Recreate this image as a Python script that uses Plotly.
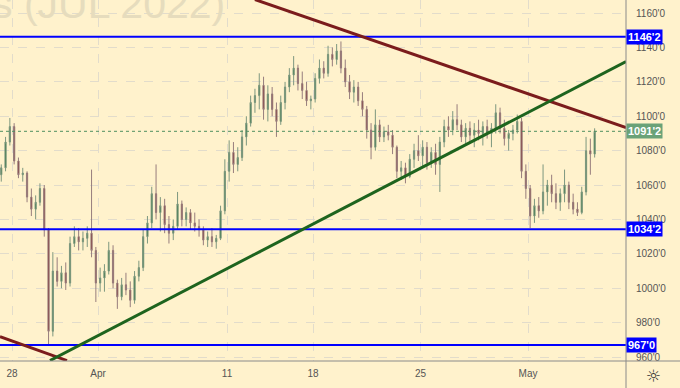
import plotly.graph_objects as go

# ---------------- data ----------------
opens = [1066,1070,1085,1094,1074,1066,1067,1053,1046,1050,1058,1034,975,1010,1004,1009,1003,1026,1030,1027,
         1029,1032,1022,1003,1006,1010,1022,1003,995,1002,999,993,1007,1012,1030,1038,1055,1044,1048,1037,
         1032,1036,1049,1040,1044,1038,1036,1034,1028,1030,1027,1029,1045,1068,1079,1072,1076,1088,1096,1108,
         1112,1118,1104,1113,1104,1097,1108,1117,1124,1128,1119,1115,1109,1110,1122,1128,1125,1136,1133,1138,
         1128,1120,1114,1117,1109,1104,1092,1082,1095,1088,1091,1089,1082,1068,1070,1065,1075,1080,1077,1082,
         1073,1079,1072,1085,1094,1092,1098,1095,1088,1093,1089,1092,1090,1094,1090,1093,1102,1093,1087,1090,
         1092,1097,1068,1058,1042,1048,1045,1056,1060,1055,1050,1055,1060,1050,1046,1044,1056,1080,1078]
highs = [1072,1088,1099,1096,1076,1070,1068,1058,1054,1061,1060,1035,1021,1018,1013,1015,1030,1036,1035,1033,
         1036,1069,1024,1012,1014,1027,1025,1005,1006,1009,1004,1010,1016,1034,1042,1059,1072,1053,1052,1042,
         1040,1056,1051,1047,1046,1044,1040,1036,1033,1035,1031,1048,1075,1086,1085,1082,1092,1100,1112,1116,
         1125,1123,1118,1117,1108,1112,1120,1128,1135,1130,1126,1120,1112,1125,1133,1132,1141,1140,1142,1143.5,
         1133,1124,1121,1120,1114,1106,1096,1104,1098,1094,1095,1092,1083,1074,1073,1078,1084,1089,1086,1085,
         1082,1084,1088,1098,1100,1103,1107,1098,1096,1097,1096,1098,1097,1098,1096,1107,1105,1098,1092,1095,
         1101,1099,1072,1060,1052,1053,1072,1063,1066,1061,1058,1069,1062,1055,1050,1059,1088,1087,1093]
lows = [1062,1068,1083,1072,1064,1062,1050,1042,1040,1048,1030,967.5,972,1001,1000,999,1001,1024,1022,1022,
        1024,1018,992,998,998,1008,1000,988,993,996,989,991,1004,1010,1026,1035,1040,1033,1032,1026,
        1028,1034,1036,1036,1034,1033,1030,1025,1024,1024,1023,1028,1043,1062,1067,1068,1074,1083,1094,1102,
        1104,1098,1097,1100,1088,1095,1104,1114,1118,1115,1110,1106,1104,1108,1119,1122,1123,1129,1130,1125,
        1117,1110,1108,1106,1100,1087,1075,1080,1085,1085,1086,1078,1064,1063,1061,1064,1070,1074,1070,1069,
        1070,1066,1056,1082,1088,1089,1092,1085,1083,1084,1082,1086,1083,1087,1082,1090,1090,1083,1080,1086,
        1090,1064,1052,1035,1038,1041,1043,1048,1050,1046,1045,1050,1046,1043,1042,1043,1054,1066,1076]
closes = [1070,1085,1094,1074,1066,1067,1053,1046,1050,1058,1034,975,1010,1004,1009,1003,1026,1030,1027,1029,
          1032,1022,1003,1006,1010,1022,1003,995,1002,999,993,1007,1012,1030,1038,1055,1044,1048,1037,1032,
          1036,1049,1040,1044,1038,1036,1034,1028,1030,1027,1029,1045,1068,1079,1072,1076,1088,1096,1108,1112,
          1118,1104,1113,1104,1097,1108,1117,1124,1128,1119,1115,1109,1110,1122,1128,1125,1136,1133,1138,1128,
          1120,1114,1117,1109,1104,1092,1082,1095,1088,1091,1089,1082,1068,1070,1065,1075,1080,1077,1082,1073,
          1079,1072,1085,1094,1092,1098,1095,1088,1093,1089,1092,1090,1094,1090,1093,1102,1093,1087,1090,1092,
          1097,1068,1058,1042,1048,1045,1056,1060,1055,1050,1055,1060,1050,1046,1044,1056,1080,1078,1091.25]

first_bar_day = -0.5      # trading-day index of the first bar
bars_per_day = 5

tick_days = [0, 4, 10, 14, 19, 24]
tick_labels = ["28", "Apr", "11", "18", "25", "May"]

price_ticks = [960, 980, 1000, 1020, 1040, 1060, 1080, 1100, 1120, 1140, 1160]

levels = [1146.25, 1034.25, 967.0]
level_labels = ["1146'2", "1034'2", "967'0"]
last_price = 1091.25
last_label = "1091'2"

# trend lines: (day, price) endpoints
resist_top = [(11.30, 1167.85), (28.56, 1093.4)]
resist_low = [(-0.558, 971.9), (2.558, 957.97)]
support = [(1.767, 957.97), (28.56, 1131.8)]

x_range = [-0.558, 28.558]
y_range = [957.7, 1167.6]

# ---------------- figure ----------------
bg = "#fff2cc"
xs = [first_bar_day + i / bars_per_day for i in range(len(closes))]

fig = go.Figure()
fig.add_trace(go.Candlestick(
    x=xs, open=opens, high=highs, low=lows, close=closes,
    increasing=dict(line=dict(color="#7d977f", width=1), fillcolor="#1f6b30"),
    decreasing=dict(line=dict(color="#977d7d", width=1), fillcolor="#7a1f1f"),
    whiskerwidth=0, showlegend=False, hoverinfo="skip",
))

shapes = []
# dotted last-price line
shapes.append(dict(type="line", xref="paper", x0=0, x1=1, yref="y", y0=last_price, y1=last_price,
                   line=dict(color="#4f8f5f", width=1, dash="dot"), layer="above"))
for lv in levels:
    shapes.append(dict(type="line", xref="paper", x0=0, x1=1, yref="y", y0=lv, y1=lv,
                       line=dict(color="#0000ff", width=2), layer="above"))
for seg, col in [(resist_top, "#7b1c1c"), (resist_low, "#7b1c1c"), (support, "#1e641e")]:
    (xa, ya), (xb, yb) = seg
    shapes.append(dict(type="line", xref="x", yref="y", x0=xa, y0=ya, x1=xb, y1=yb,
                       line=dict(color=col, width=3), layer="above"))
# axis frame lines
shapes.append(dict(type="line", xref="paper", yref="paper", x0=1, x1=1, y0=-27/361, y1=1,
                   line=dict(color="#8a8a8a", width=1)))
shapes.append(dict(type="line", xref="paper", yref="paper", x0=0, x1=54/626 + 1, y0=0, y1=0,
                   line=dict(color="#8a8a8a", width=1)))

annotations = []
# watermark
annotations.append(dict(text="s (JUL 2022)", xref="paper", yref="paper", x=-10/626, y=(361 - 29)/361,
                        xanchor="left", yanchor="bottom", showarrow=False,
                        font=dict(family="Liberation Sans", size=41, color="#e6dcbd")))
for lv, lab in zip(levels, level_labels):
    annotations.append(dict(text="<b>%s</b>" % lab, xref="paper", yref="y", x=1, y=lv,
                            xanchor="left", yanchor="middle", showarrow=False, bgcolor="#0000ff",
                            borderpad=1, font=dict(family="Liberation Sans", size=11, color="white")))
annotations.append(dict(text="<b>%s</b>" % last_label, xref="paper", yref="y", x=1, y=last_price,
                        xanchor="left", yanchor="middle", showarrow=False, bgcolor="#6aa278",
                        borderpad=1, font=dict(family="Liberation Sans", size=11, color="white")))
# settings icon
annotations.append(dict(text="☼", xref="paper", yref="paper", x=(653) / 626, y=-15/361,
                        xanchor="center", yanchor="middle", showarrow=False,
                        font=dict(family="DejaVu Sans", size=17, color="#333333")))

fig.update_layout(
    width=680, height=388,
    margin=dict(l=0, r=54, t=0, b=27),
    paper_bgcolor=bg, plot_bgcolor=bg,
    boxgap=0.6,
    shapes=shapes, annotations=annotations,
    xaxis=dict(range=x_range, tickvals=tick_days, ticktext=tick_labels,
               showgrid=True, gridcolor="#e2dccb", griddash="dash", gridwidth=1,
               zeroline=False, showline=False, ticks="", rangeslider=dict(visible=False),
               tickfont=dict(family="Liberation Sans", size=10, color="#555555"),
               ticklabelstandoff=5),
    yaxis=dict(range=y_range, side="right", tickvals=price_ticks,
               ticktext=["%d'0" % v for v in price_ticks],
               showgrid=True, gridcolor="#e2dccb", griddash="dash", gridwidth=1,
               zeroline=False, showline=False, ticks="",
               tickfont=dict(family="Liberation Sans", size=10, color="#555555"),
               ticklabelstandoff=9),
)

fig.write_html("out.html")
